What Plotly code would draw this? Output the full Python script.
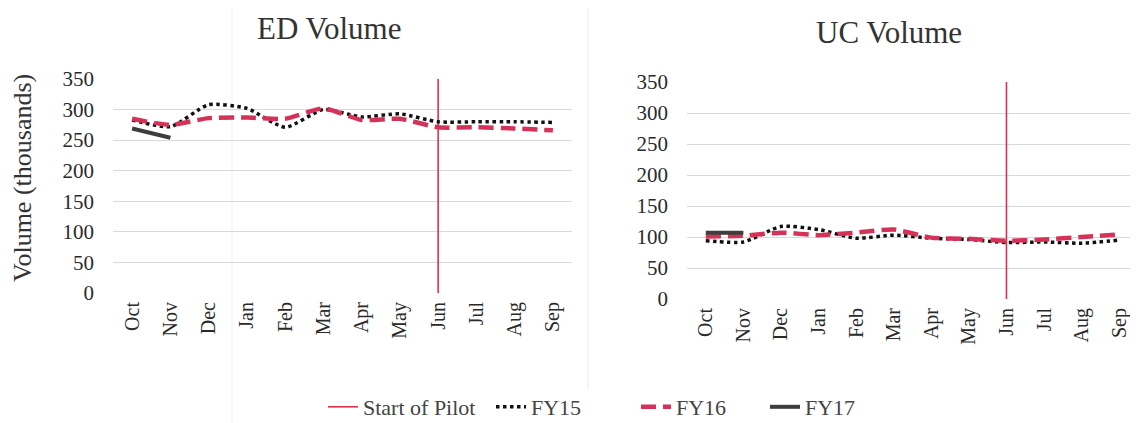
import plotly.graph_objects as go

months = ["Oct", "Nov", "Dec", "Jan", "Feb", "Mar", "Apr", "May", "Jun", "Jul", "Aug", "Sep"]
y_ticks = [0, 50, 100, 150, 200, 250, 300, 350]
pilot_month = "Jun"

ed_fy15 = [283, 272, 308, 302, 271, 300, 288, 293, 280, 280, 280, 279]
ed_fy16 = [285, 275, 286, 287, 285, 302, 283, 285, 271, 271, 269, 266]
ed_fy17 = [269, 254]

uc_fy15 = [94, 92, 117, 112, 98, 103, 98, 96, 91, 92, 90, 95]
uc_fy16 = [101, 102, 107, 103, 107, 112, 99, 97, 94, 96, 100, 104]
uc_fy17 = [107, 107]

FONT = "Liberation Serif, DejaVu Serif, serif"
RED = "#E0304F"
CRIMSON = "#D5325A"

# page body has an 8px margin: lay out in reference pixel coordinates, shifted by 8
OFF = 8
W, H = 1138 - OFF, 423 - OFF
def px(v):
    return (v - OFF) / W
def py(v):
    return 1 - (v - OFF) / H

fig = go.Figure()

def add_panel(xa, ya, fy15, fy16, fy17, show):
    fig.add_trace(go.Scatter(x=[pilot_month, pilot_month], y=[y_ticks[0], y_ticks[-1]],
                             mode="lines", line=dict(color=RED, width=1.6),
                             name="Start of Pilot", showlegend=show, legend="legend",
                             xaxis=xa, yaxis=ya, hoverinfo="skip"))
    fig.add_trace(go.Scatter(x=months, y=fy15, mode="lines",
                             line=dict(color="#111111", width=3.5, dash="dot", shape="spline", smoothing=0.6),
                             name="FY15", showlegend=show, legend="legend2", xaxis=xa, yaxis=ya))
    fig.add_trace(go.Scatter(x=months, y=fy16, mode="lines",
                             line=dict(color=CRIMSON, width=4.5, dash="15px,7px", shape="spline", smoothing=0.6),
                             name="FY16", showlegend=show, legend="legend3", xaxis=xa, yaxis=ya))
    fig.add_trace(go.Scatter(x=months[:len(fy17)], y=fy17, mode="lines",
                             line=dict(color="#3d3d3d", width=4),
                             name="FY17", showlegend=show, legend="legend4", xaxis=xa, yaxis=ya))

add_panel("x", "y", ed_fy15, ed_fy16, ed_fy17, True)
add_panel("x2", "y2", uc_fy15, uc_fy16, uc_fy17, False)

xaxis_common = dict(type="category", categoryorder="array", categoryarray=months,
                    range=[-0.5, len(months) - 0.5], automargin=False,
                    tickangle=-90, showgrid=False, zeroline=False, showline=False, ticks="",
                    ticklabelstandoff=4,
                    tickfont=dict(family=FONT, size=20, color="#2a2a2a"), fixedrange=True)
yaxis_common = dict(range=[0, 350], tickvals=y_ticks, showgrid=True, gridcolor="#d9d9d9",
                    gridwidth=1.2, zeroline=False, showline=False, ticks="", automargin=False,
                    ticklabelstandoff=18,
                    tickfont=dict(family=FONT, size=21, color="#2a2a2a"), fixedrange=True)

def legend_at(text_start):
    return dict(orientation="h", x=px(text_start - 42), xanchor="left", y=py(407), yanchor="middle",
                font=dict(family=FONT, size=22, color="#444444"), bgcolor="rgba(0,0,0,0)",
                itemwidth=30)

fig.update_layout(
    width=W, height=H,
    margin=dict(l=0, r=0, t=0, b=0, autoexpand=False),
    paper_bgcolor="white", plot_bgcolor="white",
    font=dict(family=FONT, color="#333333"),
    xaxis=dict(domain=[px(113), px(572)], anchor="y", **xaxis_common),
    yaxis=dict(domain=[py(293), py(79)], anchor="x", **yaxis_common),
    xaxis2=dict(domain=[px(687), 1.0], anchor="y2", **xaxis_common),
    yaxis2=dict(domain=[py(299), py(82)], anchor="x2", **yaxis_common),
    showlegend=True,
    legend=legend_at(365),
    legend2=legend_at(533),
    legend3=legend_at(678),
    legend4=legend_at(807),
    annotations=[
        dict(text="ED Volume", x=px(329), y=py(28), xref="paper", yref="paper",
             xanchor="center", yanchor="middle",
             showarrow=False, font=dict(family=FONT, size=31, color="#333333")),
        dict(text="UC Volume", x=px(889), y=py(33), xref="paper", yref="paper",
             xanchor="center", yanchor="middle",
             showarrow=False, font=dict(family=FONT, size=31, color="#333333")),
        dict(text="Volume (thousands)", x=px(22), y=py(178), xref="paper", yref="paper",
             xanchor="center", yanchor="middle",
             textangle=-90, showarrow=False, font=dict(family=FONT, size=26, color="#333333")),
    ],
    shapes=[
        dict(type="line", xref="paper", yref="paper", x0=px(232), x1=px(232), y0=0, y1=1,
             line=dict(color="#f0f0f0", width=1), layer="below"),
        dict(type="line", xref="paper", yref="paper", x0=px(588), x1=px(588), y0=py(390), y1=1,
             line=dict(color="#f0f0f0", width=1), layer="below"),
    ],
)

fig.write_html("out.html")
